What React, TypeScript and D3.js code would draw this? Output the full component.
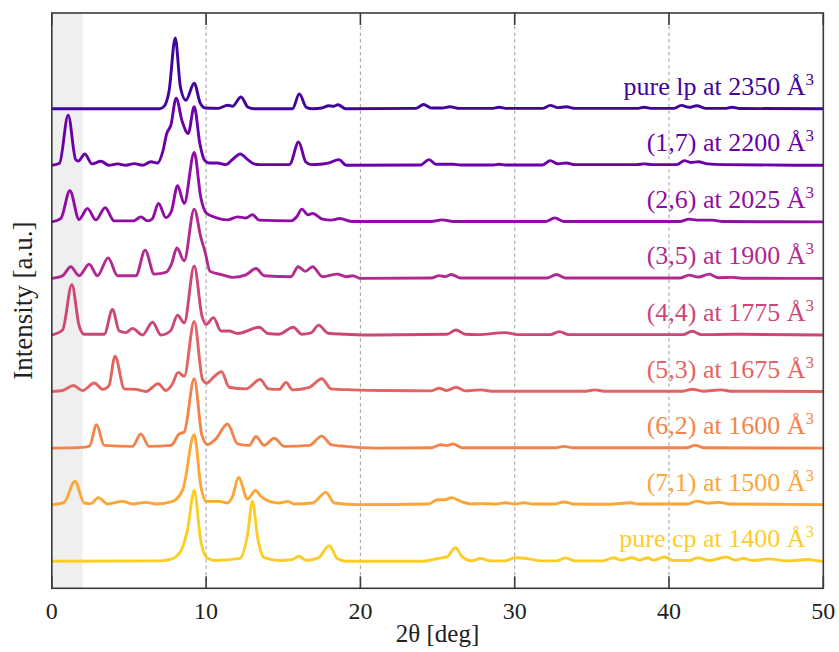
import React from "react";
import * as d3 from "d3";

// ---- data (2θ in deg, relative intensity, tallest peak ≈ 100) ----
const X_TICKS = [0, 10, 20, 30, 40, 50];
const GRID_X = [10, 20, 30, 40];
const SHADE = [0, 2];

const NAMES = ["pure cp", "(7,1)", "(6,2)", "(5,3)", "(4,4)", "(3,5)", "(2,6)", "(1,7)", "pure lp"];
const VOLUMES = [1400, 1500, 1600, 1675, 1775, 1900, 2025, 2200, 2350];

const cp: [number, number][] = [
  [0, 0], [7.0, 0.5], [7.65, 2.4], [8.3, 12], [8.8, 45], [9.23, 100], [9.66, 28], [10.05, 5], [10.6, 1],
  [12.2, 4], [12.69, 38], [13.0, 85], [13.34, 33], [13.77, 5], [14.74, 1], [15.6, 2.4], [16.0, 7], [16.5, 1],
  [17.3, 5], [17.98, 22], [18.5, 3.8], [19.07, 0], [24.1, 0], [25.0, 3.8], [25.6, 6], [26.17, 19], [26.6, 6],
  [27.2, 0.5], [27.8, 3.8], [28.4, 0.5], [29.4, 0.5], [30.0, 5], [30.8, 3.8], [31.7, 0.5], [32.7, 0.5], [33.3, 4.7], [33.9, 0.5],
  [35.7, 0.5], [36.4, 5], [36.9, 1.5], [37.6, 5], [38.1, 1.5], [38.6, 5], [39.0, 1.5], [39.7, 6], [40.3, 1],
  [41.3, 1], [41.9, 5], [42.6, 1], [43.7, 6], [44.3, 1.5], [44.8, 3.8], [45.5, 1], [46.4, 3.3], [47.7, 0.5],
  [49.0, 2.4], [49.9, 0], [50, 0],
];

const s71: [number, number][] = [
  [0, 0], [0.8, 3.3], [1.5, 33], [2.1, 2.4], [2.53, 1.4], [3.02, 10], [3.6, 1], [4.58, 4.7], [5.23, 1],
  [6.1, 3.3], [6.75, 1], [7.83, 4.7], [8.5, 22], [9.23, 99], [9.66, 26], [9.99, 4.7], [10.85, 4.7], [11.39, 2.4],
  [11.72, 12], [12.1, 38.6], [12.69, 8], [13.19, 20], [13.6, 11], [14.1, 4.7], [14.74, 2.4], [15.3, 4.7],
  [15.7, 1], [16.9, 2.4], [17.77, 17.4], [18.3, 2.4], [19.9, 0], [24.4, 1], [25.0, 7], [25.5, 7], [25.9, 10],
  [26.6, 3.8], [27.2, 1], [27.8, 1.4], [28.8, 1], [29.4, 2.8], [30.0, 1], [30.6, 2.8], [31.2, 1], [32.6, 1],
  [33.2, 3.8], [33.8, 1], [36.1, 0.5], [37.5, 2.8], [38.0, 1], [38.6, 1], [41.2, 1], [41.8, 5], [42.5, 2],
  [43.3, 3.3], [43.9, 1], [50, 0],
];

const s62: [number, number][] = [
  [0, 0], [1.99, 1], [2.45, 3], [2.9, 33], [3.4, 3.8], [5.23, 2.4], [5.77, 20], [6.31, 2.4], [7.72, 3.8],
  [8.26, 20], [8.58, 22.6], [9.23, 98], [9.73, 18], [10.1, 5], [10.63, 13], [11.39, 34], [12.04, 6],
  [12.8, 3.8], [13.23, 16.5], [13.77, 3.8], [14.42, 14], [15.07, 2.4], [16.69, 3.8], [17.5, 17], [18.1, 5],
  [19.07, 2.4], [21, 0], [24.6, 0.5], [25.2, 4.7], [25.6, 3.5], [26.0, 6], [26.6, 0.5], [32.6, 0.5],
  [33.2, 2.4], [33.8, 0.5], [41.1, 0.5], [41.7, 3.8], [42.3, 0.5], [50, 0],
];

const s53: [number, number][] = [
  [0, 0], [0.7, 1.4], [1.4, 8.5], [2.0, 1.4], [2.76, 12], [3.3, 3], [3.7, 8], [4.1, 50], [4.7, 3.8],
  [5.45, 3], [6.1, 0], [6.9, 11], [7.39, 1.4], [7.8, 10], [8.19, 27], [8.58, 21.7], [9.23, 99], [9.77, 17],
  [10.05, 11.8], [10.42, 19], [11.0, 28], [11.5, 6], [12.58, 3.8], [13.5, 17], [14.05, 3.8], [14.74, 3],
  [15.18, 13], [15.6, 2.4], [16.69, 6], [17.5, 18], [18.1, 3.8], [19.5, 2.4], [21.4, 1.4], [24.6, 1],
  [25.1, 4.7], [25.6, 1.5], [26.2, 6], [26.8, 1], [27.8, 2.4], [28.5, 0.5], [34.6, 0.5], [35.2, 2.4],
  [35.8, 0.5], [40.9, 0.5], [41.5, 3.3], [42.2, 0.5], [43.4, 2.4], [44.0, 0.5], [50, 0],
];

const s44: [number, number][] = [
  [0, 0], [0.7, 7], [1.3, 71], [1.77, 13], [2.1, 1], [3.4, 1], [3.93, 36], [4.37, 5.6], [4.8, 3.3],
  [5.23, 9.4], [5.88, 0], [6.53, 18], [7.07, 0], [7.7, 6], [8.15, 28], [8.58, 17], [9.23, 97.5], [9.73, 27],
  [9.99, 15], [10.48, 24.5], [10.96, 5.6], [11.5, 5.6], [12.04, 2], [13.45, 11], [14.0, 2], [14.7, 1],
  [15.65, 11], [16.2, 1], [16.8, 3], [17.3, 14], [17.9, 2.4], [19.07, 1], [20, 0], [25.6, 1], [26.2, 7],
  [26.8, 1], [27.6, 0.5], [29.4, 3.3], [30.2, 0.5], [32.3, 0.5], [32.9, 4.7], [33.5, 0.5], [37.5, 0.5],
  [40.9, 0.5], [41.5, 5.2], [42.1, 0.5], [44.1, 1], [50, 0],
];

const s35: [number, number][] = [
  [0, 0], [0.7, 3.8], [1.23, 16.5], [1.77, 3.8], [2.42, 20], [2.96, 3.8], [3.65, 29], [4.26, 3.8],
  [4.91, 3.8], [5.45, 3.8], [6.05, 40], [6.64, 6], [7.39, 8.5], [7.75, 20], [8.11, 43], [8.58, 25],
  [9.23, 98], [9.66, 58], [9.94, 37], [10.25, 10], [11.07, 5], [11.72, 1.4], [12.58, 5], [13.23, 14],
  [13.77, 3.8], [15.5, 2.4], [15.97, 16.5], [16.43, 10], [16.9, 16.5], [17.55, 2.4], [18.5, 6],
  [19.07, 2.4], [19.5, 3.8], [20.0, 0], [24.6, 0.5], [25.1, 4], [25.5, 2.5], [25.9, 5.6], [26.5, 0.5],
  [32.1, 0.5], [32.7, 5.6], [33.3, 0.5], [40.7, 0.5], [41.3, 4.7], [41.9, 2], [42.6, 6], [43.2, 1],
  [44.1, 1.4], [44.7, 0.3], [50, 0],
];

const s26: [number, number][] = [
  [0, 0], [0.59, 5], [1.17, 44], [1.77, 3.3], [2.31, 19], [2.85, 2.8], [3.46, 20], [4.04, 1.4], [5.3, 1.4],
  [5.77, 7], [6.2, 1.4], [6.5, 4], [6.92, 26], [7.39, 6], [7.75, 15], [8.15, 51], [8.58, 26], [9.23, 98],
  [9.66, 34], [9.99, 13], [10.63, 6], [11.39, 2.8], [12.04, 7], [12.58, 5.5], [13.0, 10], [13.45, 2.4],
  [15.5, 1.4], [15.9, 8], [16.2, 18], [16.6, 10], [16.9, 12], [17.55, 3.8], [18.1, 2.5], [18.65, 4.7],
  [19.5, 0.5], [24.6, 0.5], [25.3, 2.8], [26.0, 0.5], [32.0, 0.5], [32.6, 5.6], [33.2, 0.5], [40.7, 0.5],
  [41.3, 3.8], [41.8, 2.5], [42.8, 2.4], [43.5, 0.5], [50, 0],
];

const s17: [number, number][] = [
  [0, 0], [0.5, 3], [1.06, 71], [1.55, 8], [1.72, 6], [2.14, 16], [2.6, 2], [3.18, 5.7], [3.7, 0],
  [4.26, 2], [4.8, 0], [5.34, 2.4], [5.88, 0], [6.42, 5], [6.85, 3.3], [7.2, 20], [7.45, 45], [7.72, 57],
  [8.06, 95], [8.45, 62], [8.84, 45], [9.23, 83], [9.6, 30], [9.9, 7], [10.2, 3.3], [10.74, 3.3],
  [11.28, 1], [11.7, 8], [12.21, 16], [12.7, 8], [13.1, 2], [13.5, 1], [15.4, 1], [16.0, 33], [16.45, 5],
  [16.8, 1], [17.4, 1.5], [17.9, 3], [18.6, 8], [19.1, 0], [23.9, 0.5], [24.45, 8], [24.9, 1.5],
  [25.5, 1.5], [26.0, 1.5], [26.5, 0.5], [28.6, 0.5], [29.0, 1.5], [29.4, 0.5], [31.8, 0.5], [32.3, 6.6],
  [32.8, 2], [33.35, 3.3], [33.9, 1], [37.9, 1], [38.4, 2], [38.9, 1], [40.5, 1], [41.0, 6.6], [41.4, 4],
  [41.9, 5], [42.5, 2], [43.5, 1], [50, 0],
];

const lp: [number, number][] = [
  [0, 0], [7.0, 0], [7.3, 4], [7.6, 25], [8.0, 100], [8.34, 30], [8.69, 12], [9.23, 36], [9.62, 8],
  [9.95, 1], [10.8, 0.5], [11.39, 5], [11.7, 3.5], [12.26, 16.5], [12.72, 2], [13.1, 0], [15.6, 0],
  [16.04, 21], [16.5, 2], [16.9, 0], [17.5, 1], [17.95, 4.2], [18.25, 3.5], [18.55, 5.6], [19.05, 0],
  [23.6, 0.5], [24.1, 6], [24.6, 1], [25.3, 1], [25.8, 2.8], [26.4, 0.5], [28.5, 0.5], [29.0, 2],
  [29.5, 0.5], [31.8, 0.5], [32.3, 4.7], [32.8, 1.5], [33.35, 2.8], [33.9, 0.5], [37.9, 0.5], [38.4, 2],
  [38.9, 0.5], [40.3, 0.5], [40.8, 4.7], [41.3, 2], [41.8, 4.2], [42.4, 0.5], [43.6, 0.5], [44.1, 2],
  [44.6, 0.3], [50, 0],
];

const PATTERNS = [cp, s71, s62, s53, s44, s35, s26, s17, lp];
const OFFSET_STEP = 80;

// ---- layout ----
const W = 839;
const H = 652;
const L = 51.8, R = 823.3, T = 13, B = 588.3;
const FONT = "'Liberation Serif', 'Times New Roman', serif";

export default function App() {
  const x = d3.scaleLinear().domain([0, 50]).range([L, R]);
  const y = d3.scaleLinear().domain([-38.3, 775.4]).range([B, T]);

  return (
    <svg width={W} height={H} style={{ position: "absolute", left: 0, top: 0, background: "#fff" }}
      fontFamily={FONT}>
      <defs>
        <clipPath id="plotclip">
          <rect x={L} y={T} width={R - L} height={B - T} />
        </clipPath>
      </defs>
      <rect x={x(SHADE[0])} y={T} width={x(SHADE[1]) - x(SHADE[0])} height={B - T} fill="#efefef" />
      {GRID_X.map((g) => (
        <line key={g} x1={x(g)} x2={x(g)} y1={T} y2={B} stroke="#a8a8a8" strokeWidth={1.1}
          strokeDasharray="3.5,3" />
      ))}
      <g clipPath="url(#plotclip)">
        {PATTERNS.map((pts, i) => {
          const off = i * OFFSET_STEP;
          const line = d3
            .line<[number, number]>()
            .x((d) => x(d[0]))
            .y((d) => y(d[1] + off))
            .curve(d3.curveMonotoneX);
          return (
            <path key={i} d={line(pts) || ""} fill="none" stroke={d3.interpolatePlasma(0.9 - 0.1 * i)}
              strokeWidth={2.9} strokeLinejoin="round" strokeLinecap="round" />
          );
        })}
      </g>
      {NAMES.map((n, i) => (
        <text key={n} x={x(49.4)} y={y(i * OFFSET_STEP) - 14} textAnchor="end" fontSize={26}
          fill={d3.interpolatePlasma(0.9 - 0.1 * i)}>
          {`${n} at ${VOLUMES[i]} Å`}
          <tspan fontSize={17} dy={-10}>3</tspan>
        </text>
      ))}
      {/* frame */}
      <rect x={L} y={T} width={R - L} height={B - T} fill="none" stroke="#3a3a3a" strokeWidth={1.6} />
      {X_TICKS.map((t) => (
        <g key={t}>
          <line x1={x(t)} x2={x(t)} y1={B} y2={B - 12} stroke="#3a3a3a" strokeWidth={1.6} />
          <line x1={x(t)} x2={x(t)} y1={T} y2={T + 12} stroke="#3a3a3a" strokeWidth={1.6} />
          <text x={x(t)} y={618.5} textAnchor="middle" fontSize={24} fill="#222">{t}</text>
        </g>
      ))}
      <text x={(L + R) / 2} y={642} textAnchor="middle" fontSize={25} fill="#222">2θ [deg]</text>
      <text transform={`translate(32,${(T + B) / 2}) rotate(-90)`} textAnchor="middle" fontSize={27}
        fill="#222">Intensity [a.u.]</text>
    </svg>
  );
}
